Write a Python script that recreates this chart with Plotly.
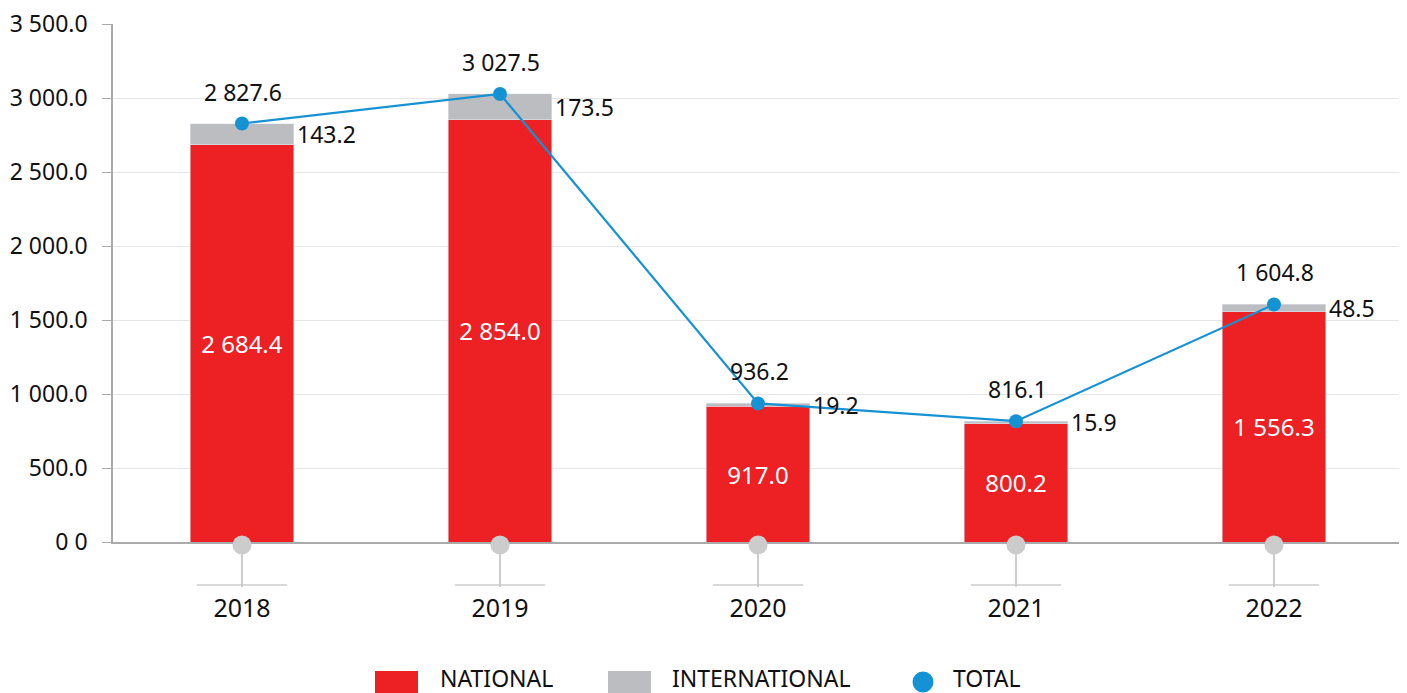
import plotly.graph_objects as go

years = ["2018", "2019", "2020", "2021", "2022"]
national = [2684.4, 2854.0, 917.0, 800.2, 1556.3]
international = [143.2, 173.5, 19.2, 15.9, 48.5]
total = [2827.6, 3027.5, 936.2, 816.1, 1604.8]
y_tickvals = [0, 500, 1000, 1500, 2000, 2500, 3000, 3500]
y_ticktext = ["0 0", "500.0", "1 000.0", "1 500.0", "2 000.0", "2 500.0", "3 000.0", "3 500.0"]
legend_names = ["NATIONAL", "INTERNATIONAL", "TOTAL"]

RED = "#ED2024"
GREY = "#BCBDC0"
BLUE = "#1592D4"
FONT = "Noto Sans"

def fmt(v):
    return f"{v:,.1f}".replace(",", " ")

fig = go.Figure()
fig.add_trace(go.Bar(
    x=years, y=national, name=legend_names[0], marker_color=RED, width=0.4,
    text=[fmt(v) for v in national], textposition="inside", insidetextanchor="middle",
    textfont=dict(color="white", size=24, family=FONT), hoverinfo="skip"))
fig.add_trace(go.Bar(
    x=years, y=international, name=legend_names[1], marker_color=GREY, width=0.4,
    hoverinfo="skip"))
fig.add_trace(go.Scatter(
    x=years, y=total, name=legend_names[2], mode="lines+markers",
    line=dict(color=BLUE, width=2.2), marker=dict(color=BLUE, size=14),
    cliponaxis=False))

# page body adds an 8px offset; plot area is placed to match the reference
OFF = 8
W, H = 1290.0, 518.0
def px(x):
    return (x - 113) / W
def py(y):
    return (542 - y) / H

annotations = []
for i in range(len(years)):
    annotations.append(dict(
        x=i, y=national[i] + international[i] / 2, xref="x", yref="y",
        text=fmt(international[i]), showarrow=False, xanchor="left", yanchor="middle",
        xshift=53, font=dict(size=23, color="#111", family=FONT)))
    annotations.append(dict(
        x=i, y=total[i], xref="x", yref="y", text=fmt(total[i]), showarrow=False,
        xanchor="center", yanchor="middle", yshift=32, xshift=1,
        font=dict(size=23, color="#111", family=FONT)))

shapes = []
for i in range(len(years)):
    shapes.append(dict(type="line", xref="x", yref="paper", x0=i - 0.175, x1=i + 0.175,
                       y0=py(585), y1=py(585), line=dict(color="#CCCCCC", width=1.5)))
    shapes.append(dict(type="circle", xref="x", yref="paper", xsizemode="pixel",
                       ysizemode="pixel", xanchor=i, yanchor=py(545),
                       x0=-9.5, x1=9.5, y0=-9.5, y1=9.5,
                       fillcolor="#CCCCCC", line=dict(width=0)))

# manual legend
leg_y = py(678)
shapes.append(dict(type="rect", xref="paper", yref="paper", x0=px(375), x1=px(418),
                   y0=py(671), y1=py(694), fillcolor=RED, line=dict(width=0)))
shapes.append(dict(type="rect", xref="paper", yref="paper", x0=px(608), x1=px(651),
                   y0=py(671), y1=py(694), fillcolor=GREY, line=dict(width=0)))
shapes.append(dict(type="circle", xref="paper", yref="paper", xsizemode="pixel",
                   ysizemode="pixel", xanchor=px(923), yanchor=py(682),
                   x0=-10.5, x1=10.5, y0=-10.5, y1=10.5, fillcolor=BLUE, line=dict(width=0)))
for xpos, name in zip([438, 670, 951], legend_names):
    annotations.append(dict(x=px(xpos), y=leg_y, xref="paper", yref="paper", text=name,
                            showarrow=False, xanchor="left", yanchor="middle",
                            font=dict(size=23, color="#111", family=FONT)))

fig.update_layout(
    barmode="stack", width=1407 - OFF, height=693 - OFF, showlegend=False,
    margin=dict(l=113 - OFF, r=4, t=24 - OFF, b=151, autoexpand=False),
    plot_bgcolor="white", paper_bgcolor="white",
    font=dict(family=FONT, color="#111"),
    shapes=shapes, annotations=annotations,
    xaxis=dict(type="category", range=[-0.5, 4.5], showgrid=False, showline=True,
               automargin=False,
               linecolor="#AAAAAA", linewidth=1.5, ticks="outside", ticklen=43,
               tickcolor="#CCCCCC", tickwidth=2,
               tickfont=dict(size=25, color="#111", family=FONT)),
    yaxis=dict(range=[0, 3500], tickvals=y_tickvals, ticktext=y_ticktext,
               automargin=False, ticklabeloverflow="allow",
               showgrid=True, gridcolor="#E6E6E6", zeroline=False, showline=True,
               linecolor="#AAAAAA", linewidth=1.5, ticks="outside", ticklen=9,
               tickcolor="#AAAAAA", ticklabelstandoff=10,
               tickfont=dict(size=23, color="#111", family=FONT)),
)

fig.write_html("out.html")
